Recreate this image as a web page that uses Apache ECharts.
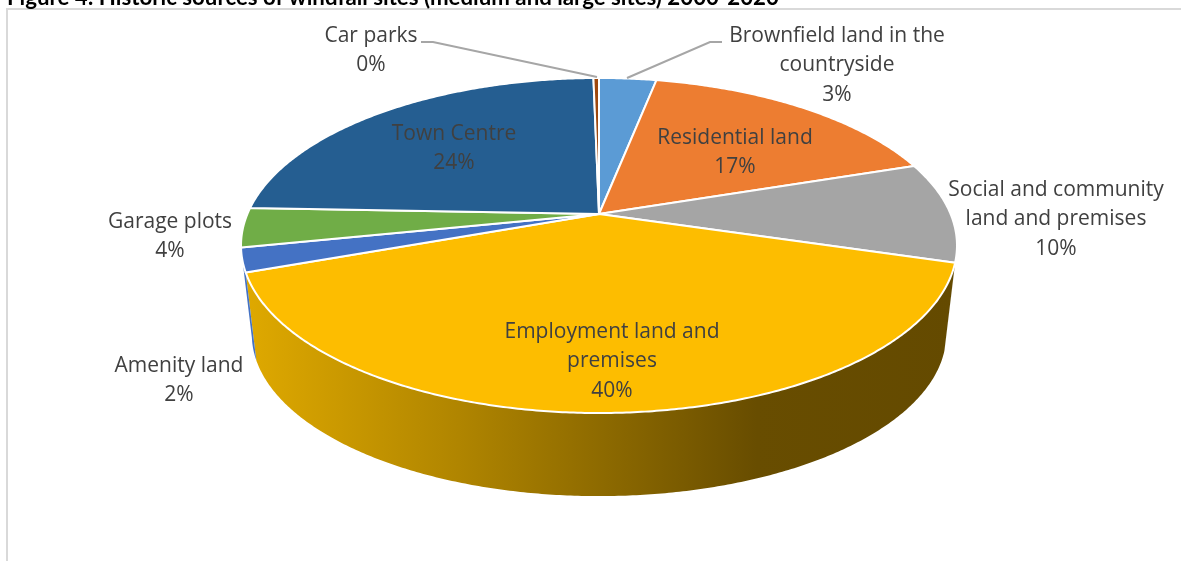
<!DOCTYPE html>
<html>
<head>
<meta charset="utf-8">
<style>html,body{margin:0;padding:0;background:#fff}#chart{width:1181px;height:561px}</style>
<script src="https://cdn.jsdelivr.net/npm/echarts@6/dist/echarts.min.js"></script>
</head>
<body>
<div id="chart"></div>
<script>
// Windfall site sources, in percent, clockwise from twelve o'clock.
const categories = ['Brownfield land in the\ncountryside', 'Residential land', 'Social and community\nland and premises',
  'Employment land and\npremises', 'Amenity land', 'Garage plots', 'Town Centre', 'Car parks'];
const shares = [3.1, 16.8, 9.7, 39.9, 2.3, 3.8, 24.1, 0.3];
const sliceColors = ['#5b9bd5', '#ed7d31', '#a5a5a5', '#fdbd00', '#4472c4', '#70ad47', '#255e91', '#9e480e'];
const chartTitle = 'Figure 4: Historic sources of windfall sites (medium and large sites) 2000-2020';

// Label centres (x, y of the first line), index-aligned with categories.
const labelPlaces = [[837, 35], [735, 137], [1056, 189], [612, 331], [179, 365], [170, 221], [454, 133], [371, 35]];
const leaderLines = [
  [[722, 42], [710, 42], [627, 78]],
  [[421, 42], [433, 42], [597, 77]]
];

// Perspective camera for the disc: rim points are projected from the unit circle.
const apex = { x: 599, y: 214 };
const tilt = 0.188;
const topFace = { rx: 351.6, ry: 161.6, cy: apex.y };
const bottomFace = { rx: 341, ry: 156, cy: 304 };
const wallFrom = 106, wallTo = 258;   // rim range (degrees) facing the viewer

function rim(face, deg) {
  const a = deg * Math.PI / 180, ux = Math.sin(a), uy = -Math.cos(a), w = 1 - tilt * uy;
  return [apex.x + face.rx * ux / w, face.cy + face.ry * uy / w];
}
function arc(face, from, to) {
  const pts = [], n = Math.max(2, Math.ceil(Math.abs(to - from) * 2));
  for (let i = 0; i <= n; i++) pts.push(rim(face, from + (to - from) * i / n));
  return pts;
}

const total = shares.reduce((a, b) => a + b, 0);
const starts = shares.map((_, i) => shares.slice(0, i).reduce((a, b) => a + b, 0) / total * 360);

function renderSlice(params, api) {
  const i = params.dataIndex;
  const from = starts[i], to = from + api.value(1) / total * 360;
  const kids = [];

  const wa = Math.max(from, wallFrom), wb = Math.min(to, wallTo);
  if (wb > wa) {
    const isMain = wb - wa > 90;
    const fill = isMain ? new echarts.graphic.LinearGradient(0, 0, 1, 0, [
      { offset: 0, color: '#dfa900' },
      { offset: 0.3, color: '#b08500' },
      { offset: 0.72, color: '#684d00' },
      { offset: 1, color: '#644a00' }
    ]) : sliceColors[i];
    kids.push({
      type: 'polygon', z2: 1, silent: true,
      shape: { points: arc(topFace, wa, wb).concat(arc(bottomFace, wb, wa)) },
      style: { fill: fill }
    });
  }

  kids.push({
    type: 'polygon', z2: 2,
    shape: { points: [[apex.x, apex.y]].concat(arc(topFace, from, to)) },
    style: { fill: sliceColors[i], stroke: '#fff', lineWidth: 2, lineJoin: 'round' }
  });

  const place = labelPlaces[i];
  kids.push({
    type: 'text', z2: 5, silent: true, x: place[0], y: place[1] - 14,
    style: {
      text: categories[i] + '\n' + Math.round(api.value(1) / total * 100) + '%',
      lineHeight: 29.5,
      align: 'center', verticalAlign: 'top',
      fontFamily: 'Open Sans', fontSize: 21, fill: '#404040'
    }
  });
  return { type: 'group', children: kids };
}

const chart = echarts.init(document.getElementById('chart'), null, { renderer: 'canvas' });
chart.setOption({
  animation: false,
  backgroundColor: '#fff',
  title: {
    text: chartTitle, left: 2, top: -18,
    textStyle: { fontFamily: 'Lato', fontWeight: 'bold', fontSize: 22.25, color: '#000' }
  },
  graphic: [
    { type: 'rect', z: -1, silent: true, shape: { x: 7, y: 9, width: 1400, height: 800 },
      style: { fill: 'none', stroke: '#d9d9d9', lineWidth: 2 } }
  ].concat(leaderLines.map(points => ({
    type: 'polyline', z: 10, silent: true, shape: { points: points },
    style: { fill: 'none', stroke: '#a6a6a6', lineWidth: 2 }
  }))),
  series: [{
    type: 'custom',
    coordinateSystem: 'none',
    renderItem: renderSlice,
    data: categories.map((name, i) => [name, shares[i]])
  }]
});
</script>
</body>
</html>
